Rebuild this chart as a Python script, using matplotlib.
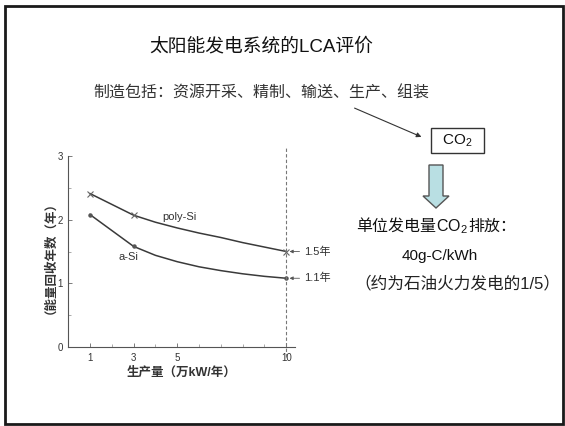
import matplotlib.pyplot as plt
from matplotlib.patches import Rectangle, Polygon

plt.rcParams['font.family'] = ['Liberation Sans', 'Noto Sans CJK SC', 'DejaVu Sans']
plt.rcParams['mathtext.fontset'] = 'custom'
plt.rcParams['mathtext.rm'] = 'Liberation Sans'
plt.rcParams['mathtext.it'] = 'Liberation Sans'
plt.rcParams['mathtext.default'] = 'regular'

# energy payback time vs. production volume
prod = [1, 3, 4, 5, 6, 7, 8, 9, 10]
poly_si = [2.41, 2.07, 1.96, 1.87, 1.79, 1.72, 1.64, 1.57, 1.50]
a_si = [2.08, 1.58, 1.44, 1.34, 1.26, 1.20, 1.15, 1.11, 1.08]
marker_x = [1, 3, 10]
poly_marks = [2.41, 2.07, 1.50]
a_marks = [2.08, 1.58, 1.08]
xticks = [1, 3, 5, 10]
yticks = [0, 1, 2, 3]
payback_notes = [(1.5, '1.5年'), (1.08, '1.1年')]

title = '太阳能发电系统的LCA评价'
subtitle = '制造包括：资源开采、精制、输送、生产、组装'
emission_head = ['单位发电量', 'CO$_2$', '排放：']
emission_lines = ['40g-C/kWh', '（约为石油火力发电的1/5）']

fig = plt.figure(figsize=(5.65, 4.26), dpi=100)
renderer = fig.canvas.get_renderer()

# slide layer in pixel coordinates
bg = fig.add_axes([0, 0, 1, 1])
bg.set_xlim(0, 565)
bg.set_ylim(426, 0)
bg.axis('off')
bg.add_patch(Rectangle((4.5, 5.5), 558, 418, fill=False, lw=2, ec='#1a1a1a'))


def text_row(pieces, xc, y, **kw):
    # mathtext can't fall back to CJK fonts, so lay the pieces side by side
    arts = [bg.text(0, y, p, va='baseline', ha='left', **kw) for p in pieces]
    widths = [a.get_window_extent(renderer).width for a in arts]
    x = xc - sum(widths) / 2
    for a, w in zip(arts, widths):
        a.set_x(x)
        x += w
    return arts


bg.text(261, 47, title, fontsize=13.5, ha='center', va='center', color='#111')
bg.text(261, 93, subtitle, fontsize=11.5, ha='center', va='center', color='#333')
bg.annotate('', xy=(424, 138), xytext=(352, 107),
            arrowprops=dict(arrowstyle='-|>', color='#333', lw=0.8, mutation_scale=7))
bg.add_patch(Rectangle((431, 128), 53, 25, fill=False, lw=1, ec='#333'))
text_row(['CO$_2$'], 457.5, 145, fontsize=11, color='#111')
bg.add_patch(Polygon([(429, 165), (443, 165), (443, 196), (449, 196), (436, 208),
                      (423, 196), (429, 196)], closed=True, fc='#b9dfe3', ec='#555', lw=1))
text_row(emission_head, 436, 231, fontsize=11.5, color='#111')
bg.text(440, 256, emission_lines[0], fontsize=11, ha='center', va='center', color='#111')
bg.text(457, 283, emission_lines[1], fontsize=12, ha='center', va='center', color='#222')

# chart
ax = fig.add_axes([0.1207, 0.1854, 0.4014, 0.4484])
ink = '#3a3a3a'
ax.plot(prod, poly_si, color=ink, lw=1.1)
ax.plot(prod, a_si, color=ink, lw=1.1)
ax.plot(marker_x, poly_marks, 'x', color='#666', ms=4, mew=0.8)
ax.plot(marker_x, a_marks, 'o', color='#555', ms=2.2)
ax.plot([10, 10], [-0.16, 3.14], color='#777', lw=0.8, ls=(0, (3, 2)), clip_on=False)

ax.text(5.1, 2.04, 'poly-Si', fontsize=8, ha='center', va='center', color='#333')
ax.text(2.75, 1.41, 'a-Si', fontsize=8, ha='center', va='center', color='#333')
for yv, note in payback_notes:
    ax.annotate(note, xy=(10.15, yv), xytext=(10.8, yv), fontsize=8, va='center',
                color='#333', annotation_clip=False,
                arrowprops=dict(arrowstyle='-|>', color='#555', lw=0.6,
                                mutation_scale=5, shrinkA=1, shrinkB=0))

ax.set_xlim(0, 10.4)
ax.set_ylim(0, 3)
ax.spines[['top', 'right']].set_visible(False)
for s in ax.spines.values():
    s.set_color('#555')
    s.set_linewidth(0.8)
ax.set_xticks(xticks)
ax.set_yticks(yticks)
ax.set_xticks(range(1, 11), minor=True)
ax.set_yticks([0.5, 1.5, 2.5], minor=True)
ax.tick_params(direction='in', length=3, width=0.6, color='#666', labelsize=7,
               labelcolor='#333', pad=4)
ax.tick_params(which='minor', direction='in', length=2, width=0.5, color='#888')
ax.set_xlabel('生产量（万kW/年）', fontsize=9, fontweight='bold', color='#333', labelpad=3)
ax.set_ylabel('（能量回收年数（年）', fontsize=9, fontweight='bold', color='#333', labelpad=5)

fig.savefig('out.png', dpi=100)
